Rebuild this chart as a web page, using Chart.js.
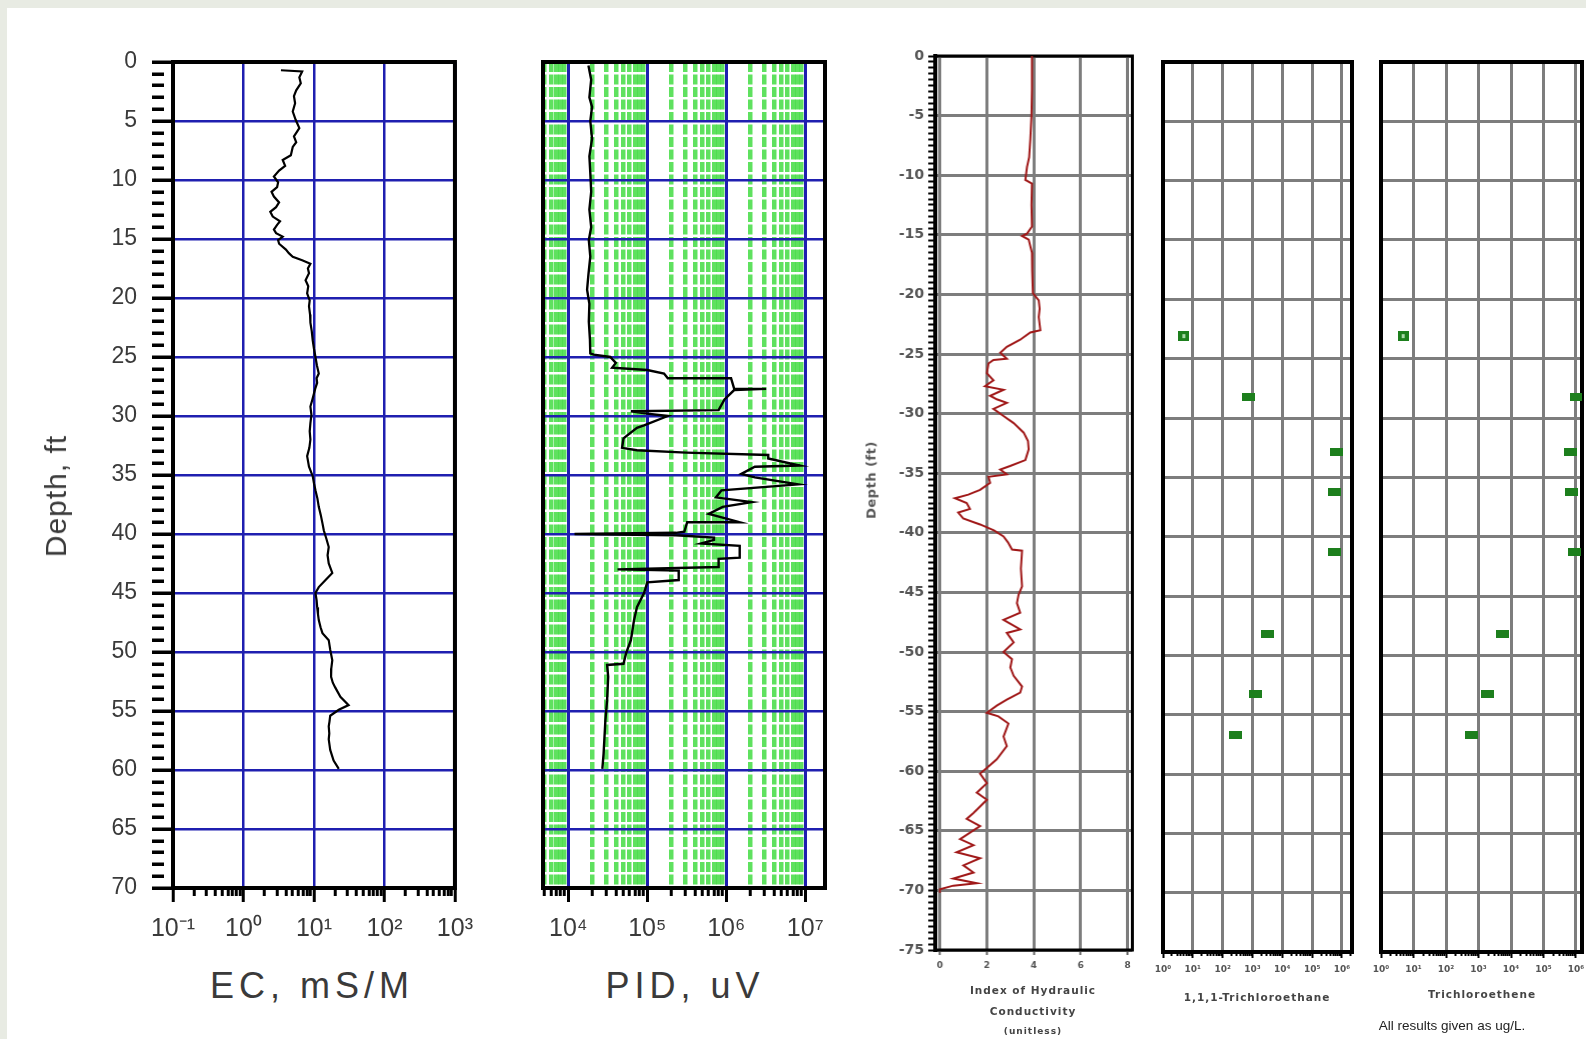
<!DOCTYPE html>
<html lang="en">
<head>
<meta charset="UTF-8">
<title>Depth profiles</title>
<script src="https://cdn.jsdelivr.net/npm/chart.js"></script>
<style>
  html, body { margin: 0; padding: 0; }
  body { width: 1586px; height: 1039px; background: #e8ebe3; overflow: hidden; position: relative; font-family: "Liberation Sans", Arial, sans-serif; }
  #sheet { position: absolute; left: 7px; top: 8px; right: 0; bottom: 0; background: #fff; }
  .panel { position: absolute; }
  .lbl { position: absolute; white-space: nowrap; color: #3a3a3a; transform: translate(-50%, -50%); }
  .small { font-family: "DejaVu Sans", sans-serif; font-weight: bold; font-size: 10.5px; letter-spacing: 1px; color: #444; }
</style>
</head>
<body>
<div id="sheet"></div>
<div class="panel" id="ecBox"><canvas id="ecChart"></canvas></div>
<div class="panel" id="pidBox"><canvas id="pidChart"></canvas></div>
<div class="panel" id="hcBox"><canvas id="hcChart"></canvas></div>
<div class="panel" id="tcaBox"><canvas id="tcaChart"></canvas></div>
<div class="panel" id="tceBox"><canvas id="tceChart"></canvas></div>

<div class="lbl" style="left:56px; top:496px; transform:translate(-50%,-50%) rotate(-90deg); font-size:30px; letter-spacing:1px;">Depth, ft</div>
<div class="lbl" style="left:312px; top:986px; font-size:36px; letter-spacing:5px;">EC, mS/M</div>
<div class="lbl" style="left:685px; top:986px; font-size:36px; letter-spacing:5px;">PID, uV</div>
<div class="lbl small" style="left:871px; top:480px; transform:translate(-50%,-50%) rotate(-90deg); font-size:13px; letter-spacing:0.5px; color:#555;">Depth (ft)</div>
<div class="lbl small" style="left:1033px; top:990px;">Index of Hydraulic</div>
<div class="lbl small" style="left:1033px; top:1011px;">Conductivity</div>
<div class="lbl small" style="left:1033px; top:1031px; font-size:9px;">(unitless)</div>
<div class="lbl small" style="left:1257px; top:997px;">1,1,1-Trichloroethane</div>
<div class="lbl small" style="left:1482px; top:994px;">Trichloroethene</div>
<div class="lbl" style="left:1452px; top:1025px; font-size:13.5px; color:#222;">All results given as ug/L.</div>

<script>
// ---- EC log (mS/M vs depth, ft) ----
const ecDepth = [0.7,0.8,1.3,1.8,2.4,2.9,3.5,4.2,4.9,5.6,6.3,6.8,7.2,7.9,8.3,8.8,9.2,9.7,10.2,10.6,11.0,11.4,11.9,12.3,12.7,13.1,13.5,13.8,14.2,14.5,14.8,15.1,15.4,15.9,16.2,16.5,16.8,17.1,17.5,17.9,18.5,19.0,19.6,20.2,20.7,21.4,22.1,22.8,23.6,24.3,25.0,25.7,26.4,26.8,27.2,27.7,28.1,28.6,29.2,29.9,30.6,31.3,32.0,32.7,33.4,34.3,35.1,35.7,36.3,37.0,37.7,38.4,39.1,39.7,40.4,41.1,41.8,42.5,43.3,43.9,44.5,45.0,45.6,46.2,46.8,47.3,47.9,48.4,49.0,49.8,50.7,51.4,52.1,52.6,53.0,53.8,54.5,54.9,55.4,55.9,56.3,56.9,57.4,58.3,59.2,59.9];
const ecValue = [3.4,6.8,6.2,6.5,5.6,5.2,5.4,5.0,5.5,6.2,5.2,5.6,5.0,4.7,3.6,3.9,3.2,2.7,3.1,3.0,2.5,2.7,3.2,2.9,2.4,2.6,3.3,3.0,2.7,2.9,3.6,3.1,3.2,4.0,4.4,5.0,6.8,8.9,8.2,8.5,7.6,8.3,8.0,8.7,8.5,8.8,8.9,9.3,9.6,10.0,10.5,11.0,11.7,10.9,11.1,10.4,10.0,9.5,8.9,9.2,8.9,8.7,8.9,8.6,8.0,8.5,9.6,10.0,10.5,11.2,11.7,12.5,13.2,13.8,15.0,16.2,15.6,16.2,18.2,14.6,11.7,10.5,10.9,11.1,11.4,11.7,12.4,13.2,16.2,17.0,18.2,17.6,17.5,18.5,20.0,23.7,31.0,22.5,17.0,16.6,16.2,16.5,16.2,17.0,19.0,22.5];

// ---- PID log (uV vs depth, ft) ----
const pidDepth = [0.3,1.5,3.0,3.8,5.0,6.5,8.0,9.4,11.0,12.5,14.0,15.1,16.5,18.0,19.3,20.5,22.0,23.5,24.7,24.8,25.0,25.5,25.9,26.1,26.4,26.8,26.8,27.7,27.7,27.8,28.6,29.5,29.6,29.8,30.0,30.8,31.0,31.9,32.7,32.9,33.1,33.3,33.6,34.2,34.3,34.9,35.2,35.8,36.3,36.9,37.3,37.7,38.3,39.0,39.0,39.8,39.9,40.0,40.1,40.3,40.5,40.8,41.0,42.0,42.1,42.8,43.0,43.1,43.9,44.1,45.0,46.2,47.3,49.0,50.1,51.0,51.1,52.1,54.1,55.8,58.6,59.9];
const pidValue = [18000,19500,18500,20000,19000,20000,18500,19000,19500,18500,19500,18200,19000,18000,17300,18500,18200,18800,19000,21000,34000,40000,36000,100000,163000,182000,1150000,1260000,3200000,1260000,950000,800000,62000,100000,182000,91000,74000,50000,48000,74000,310000,3400000,3400000,8500000,2300000,1550000,2300000,8100000,870000,740000,2100000,900000,600000,1480000,320000,295000,230000,12000,230000,700000,700000,480000,1480000,1480000,800000,800000,42000,250000,250000,100000,91000,74000,68000,62000,54000,50000,31000,32000,31000,29500,28000,27000];

// ---- Index of hydraulic conductivity (depth in ft, negative down) ----
const hcDepth = [0,-2.8,-5.0,-7.0,-8.5,-9.3,-10.4,-10.7,-12.5,-14.3,-14.9,-15.1,-15.4,-16.5,-18.0,-19.9,-20.5,-21.2,-21.9,-23.0,-23.2,-23.8,-24.4,-24.9,-25.4,-25.5,-25.8,-26.6,-27.2,-27.7,-28.0,-28.5,-28.8,-29.1,-29.6,-30.2,-30.8,-31.6,-32.3,-33.0,-33.9,-34.4,-34.7,-35.1,-35.3,-35.8,-36.4,-36.8,-37.1,-37.5,-38.0,-38.3,-38.8,-39.3,-39.8,-40.3,-40.8,-41.4,-41.5,-43.0,-44.5,-45.2,-45.9,-46.7,-47.3,-48.1,-48.4,-49.2,-50.0,-50.6,-51.3,-52.0,-52.9,-53.4,-54.0,-54.5,-55.1,-55.4,-56.0,-57.1,-57.9,-59.0,-59.6,-60.2,-61.0,-61.8,-62.4,-63.5,-64.0,-64.6,-65.7,-66.2,-66.8,-67.3,-67.9,-68.5,-69.0,-69.4,-69.6,-69.9,-70.2];
const hcValue = [3.92,3.92,3.90,3.85,3.80,3.71,3.64,3.92,3.90,3.92,3.71,3.50,3.78,3.92,3.93,3.96,4.21,4.25,4.21,4.28,3.85,3.42,2.85,2.57,2.85,2.28,2.07,2.00,2.28,1.92,2.71,2.14,2.42,2.85,2.28,2.71,3.14,3.57,3.75,3.78,3.64,2.99,2.57,2.85,2.07,2.14,1.71,1.21,0.64,1.14,1.28,0.78,0.99,1.71,2.30,2.71,2.90,3.07,3.50,3.45,3.50,3.35,3.28,3.42,2.71,3.42,2.85,3.14,2.71,3.07,3.00,3.14,3.50,3.42,2.85,2.42,2.00,2.49,2.92,2.71,2.85,2.42,2.07,1.71,2.00,1.57,2.00,1.43,1.14,1.71,0.86,1.43,0.71,1.71,1.00,1.43,0.57,1.57,0.57,0.00,0.00];

// ---- groundwater samples (ug/L) ----
const sampleDepth = [-23.1,-28.2,-32.9,-36.2,-41.3,-48.2,-53.3,-56.7];
const tcaConc = [5,710,630000,540000,540000,3300,1300,260];
const tceConc = [4.8,1070000,660000,750000,870000,5600,1950,630];
const sampleOpen = [true,false,false,false,false,false,false,false];

// ---- tick values / labels ----
const ecYTicks = [0,5,10,15,20,25,30,35,40,45,50,55,60,65,70];
const ecXTicks = [0.1,1,10,100,1000];
const ecXLabels = ['10\u207B\u00B9','10\u2070','10\u00B9','10\u00B2','10\u00B3'];
const pidXTicks = [1e4,1e5,1e6,1e7];
const pidXLabels = ['10\u2074','10\u2075','10\u2076','10\u2077'];
const hcYTicks = [0,-5,-10,-15,-20,-25,-30,-35,-40,-45,-50,-55,-60,-65,-70,-75];
const hcXTicks = [0,2,4,6,8];
const concXTicks = [1,10,100,1e3,1e4,1e5,1e6];
const concXLabels = ['10\u2070','10\u00B9','10\u00B2','10\u00B3','10\u2074','10\u2075','10\u2076'];

const blue = '#1f1fb0';
const green = 'rgba(55,218,55,0.8)';
const gray = '#7d7d7d';

function isDecade(v) {
  const l = Math.log10(v);
  return Math.abs(l - Math.round(l)) < 1e-6;
}
function withMinors(decades, min, max) {
  const out = [];
  const e0 = Math.floor(Math.log10(min)), e1 = Math.ceil(Math.log10(max));
  for (let e = e0; e <= e1; e++) {
    for (let k = 1; k <= 9; k++) {
      const v = k * Math.pow(10, e);
      if (v >= min * 0.9999 && v <= max * 1.0001) out.push(v);
    }
  }
  return out;
}
function decadeLabel(v, ticks, labels) {
  const i = ticks.findIndex(t => Math.abs(t - v) / t < 1e-6);
  return i >= 0 ? labels[i] : '';
}
function steps(from, to, step) {
  const out = [];
  for (let v = from; v <= to + 1e-9; v += step) out.push(Math.round(v * 100) / 100);
  return out;
}

// position a chart box so that its plot area lands on [left, top, right, bottom]
function place(id, area, wy, hx, padTop, padRight) {
  const el = document.getElementById(id);
  el.style.left = (area[0] - wy) + 'px';
  el.style.top = (area[1] - padTop) + 'px';
  el.style.width = (area[2] - area[0] + wy + padRight) + 'px';
  el.style.height = (area[3] - area[1] + padTop + hx) + 'px';
}

const frame = {
  id: 'frame',
  beforeDatasetsDraw(chart, args, opts) {
    const {ctx, chartArea: a} = chart;
    ctx.save();
    ctx.strokeStyle = '#000';
    ctx.lineWidth = opts.width || 4;
    ctx.strokeRect(a.left, a.top, a.right - a.left, a.bottom - a.top);
    ctx.restore();
  }
};

function baseOptions(padTop, padRight, frameWidth) {
  return {
    responsive: true,
    maintainAspectRatio: false,
    animation: false,
    layout: {padding: {top: padTop, right: padRight, left: 0, bottom: 0}},
    plugins: {legend: {display: false}, tooltip: {enabled: false}, frame: {width: frameWidth}},
    elements: {point: {radius: 0}, line: {tension: 0}}
  };
}

const PAD_TOP = 45;

// ---------- EC ----------
const ecArea = [173, 62, 455, 888];
place('ecBox', ecArea, 130, 70, PAD_TOP, 30);
const ecYAll = steps(0, 70, 1);
const ecXAll = withMinors(ecXTicks, 0.1, 1000);
new Chart(document.getElementById('ecChart'), {
  type: 'line',
  data: {datasets: [{
    label: 'EC',
    data: ecDepth.map((d, i) => ({x: ecValue[i], y: d})),
    borderColor: '#000', borderWidth: 2.2, pointRadius: 0, fill: false
  }]},
  options: Object.assign(baseOptions(PAD_TOP, 30, 4), {
    scales: {
      x: {
        type: 'logarithmic', position: 'bottom', min: 0.1, max: 1000,
        afterBuildTicks: s => { s.ticks = ecXAll.map(v => ({value: v})); },
        afterFit: s => { s.height = 70; },
        border: {display: false},
        grid: {
          z: -2,
          color: c => c.tick && isDecade(c.tick.value) ? blue : 'transparent',
          lineWidth: 2.5, tickLength: 14, tickWidth: 3, tickColor: '#000',
          tickBorderDash: c => c.tick && isDecade(c.tick.value) ? [] : [8, 40]
        },
        ticks: {autoSkip: false, maxRotation: 0, padding: 12, color: '#3a3a3a',
          font: {family: 'Liberation Sans', size: 25},
          callback: v => decadeLabel(v, ecXTicks, ecXLabels)}
      },
      y: {
        type: 'linear', position: 'left', reverse: true, min: 0, max: 70,
        afterBuildTicks: s => { s.ticks = ecYAll.map(v => ({value: v})); },
        afterFit: s => { s.width = 130; },
        border: {display: false},
        grid: {
          z: -1,
          color: c => c.tick && ecYTicks.includes(c.tick.value) ? blue : 'transparent',
          lineWidth: 2.5, tickLength: 21, tickWidth: 3.5, tickColor: '#000',
          tickBorderDash: c => c.tick && ecYTicks.includes(c.tick.value) ? [] : [12, 40]
        },
        ticks: {autoSkip: false, padding: 15, color: '#3a3a3a',
          font: {family: 'Liberation Sans', size: 23},
          callback: v => ecYTicks.includes(v) ? String(v) : ''}
      }
    }
  }),
  plugins: [frame]
});

// ---------- PID ----------
const pidArea = [543, 62, 825, 888];
const pidMin = Math.pow(10, 3.68), pidMax = Math.pow(10, 7.25);
place('pidBox', pidArea, 20, 70, PAD_TOP, 30);
const pidXAll = withMinors(pidXTicks, 5000, 1e7);
new Chart(document.getElementById('pidChart'), {
  type: 'line',
  data: {datasets: [{
    label: 'PID',
    data: pidDepth.map((d, i) => ({x: pidValue[i], y: d})),
    borderColor: '#000', borderWidth: 2.4, pointRadius: 0, fill: false
  }]},
  options: Object.assign(baseOptions(PAD_TOP, 30, 4), {
    scales: {
      x: {
        type: 'logarithmic', position: 'bottom', min: pidMin, max: pidMax,
        afterBuildTicks: s => { s.ticks = pidXAll.map(v => ({value: v})); },
        afterFit: s => { s.height = 70; },
        border: {display: false, dash: c => c.tick && !isDecade(c.tick.value) ? [10, 2.5] : []},
        grid: {
          z: -2,
          color: c => c.tick && isDecade(c.tick.value) ? blue : green,
          lineWidth: c => c.tick && isDecade(c.tick.value) ? 3 : 4.5,
          tickLength: 14, tickWidth: 3, tickColor: '#000',
          tickBorderDash: c => c.tick && isDecade(c.tick.value) ? [] : [8, 40]
        },
        ticks: {autoSkip: false, maxRotation: 0, padding: 12, color: '#3a3a3a',
          font: {family: 'Liberation Sans', size: 25},
          callback: v => decadeLabel(v, pidXTicks, pidXLabels)}
      },
      y: {
        type: 'linear', position: 'left', reverse: true, min: 0, max: 70,
        afterBuildTicks: s => { s.ticks = ecYTicks.map(v => ({value: v})); },
        afterFit: s => { s.width = 20; },
        border: {display: false},
        grid: {z: -1, color: blue, lineWidth: 2.5, drawTicks: false},
        ticks: {display: false}
      }
    }
  }),
  plugins: [frame]
});

// ---------- Hydraulic conductivity index ----------
const hcArea = [935.3, 56, 1131.7, 950];
place('hcBox', hcArea, 60, 50, PAD_TOP, 12);
const hcYAll = steps(-75, 0, 0.5);
new Chart(document.getElementById('hcChart'), {
  type: 'line',
  data: {datasets: [{
    label: 'Index of Hydraulic Conductivity',
    data: hcDepth.map((d, i) => ({x: hcValue[i], y: d})),
    borderColor: '#a01818', borderWidth: 2, pointRadius: 0, fill: false
  }]},
  options: Object.assign(baseOptions(PAD_TOP, 12, 3), {
    scales: {
      x: {
        type: 'linear', position: 'bottom', min: -0.2, max: 8.2,
        afterBuildTicks: s => { s.ticks = hcXTicks.map(v => ({value: v})); },
        afterFit: s => { s.height = 50; },
        border: {display: false},
        grid: {z: -2, color: gray, lineWidth: 3, tickLength: 5, tickWidth: 2, tickColor: '#666'},
        ticks: {autoSkip: false, maxRotation: 0, padding: 5, color: '#555',
          font: {family: 'DejaVu Sans', size: 9, weight: 'bold'}}
      },
      y: {
        type: 'linear', position: 'left', min: -75, max: 0,
        afterBuildTicks: s => { s.ticks = hcYAll.map(v => ({value: v})); },
        afterFit: s => { s.width = 60; },
        border: {display: true, color: '#000', width: 4},
        grid: {
          z: -1,
          color: c => c.tick && hcYTicks.includes(c.tick.value) ? gray : 'transparent',
          lineWidth: 3, tickLength: 7, tickWidth: 2, tickColor: '#000'
        },
        ticks: {autoSkip: false, padding: 4, color: '#555',
          font: {family: 'DejaVu Sans', size: 14, weight: 'bold'},
          callback: v => hcYTicks.includes(v) ? String(v) : ''}
      }
    }
  }),
  plugins: [frame]
});

// ---------- concentration panels ----------
function mark(open) {
  const c = document.createElement('canvas');
  c.width = open ? 11 : 13;
  c.height = open ? 10 : 8;
  const g = c.getContext('2d');
  g.fillStyle = '#1d7f1d';
  g.fillRect(0, 0, c.width, c.height);
  if (open) { g.fillStyle = '#a8d8a8'; g.fillRect(4, 3, 3, 4); }
  return c;
}
const openMark = mark(true), solidMark = mark(false);

function concChart(canvasId, boxId, area, maxExp, values, name) {
  const max = Math.pow(10, maxExp);
  place(boxId, area, 20, 50, PAD_TOP, 15);
  const xAll = withMinors(concXTicks, 1, max);
  return new Chart(document.getElementById(canvasId), {
    type: 'scatter',
    data: {datasets: [{
      label: name,
      data: sampleDepth.map((d, i) => ({x: values[i], y: d})),
      pointStyle: sampleOpen.map(o => o ? openMark : solidMark),
      pointRadius: 6
    }]},
    options: Object.assign(baseOptions(PAD_TOP, 15, 4), {
      scales: {
        x: {
          type: 'logarithmic', position: 'bottom', min: 1, max: max,
          afterBuildTicks: s => { s.ticks = xAll.map(v => ({value: v})); },
          afterFit: s => { s.height = 50; },
          border: {display: false},
          grid: {
            z: -2,
            color: c => c.tick && isDecade(c.tick.value) ? gray : 'transparent',
            lineWidth: 3, tickLength: 6, tickWidth: 2, tickColor: '#000',
            tickBorderDash: c => c.tick && isDecade(c.tick.value) ? [] : [4, 20]
          },
          ticks: {autoSkip: false, maxRotation: 0, padding: 6, color: '#555',
            font: {family: 'DejaVu Sans', size: 9, weight: 'bold'},
            callback: v => decadeLabel(v, concXTicks, concXLabels)}
        },
        y: {
          type: 'linear', position: 'left', min: -75, max: 0,
          afterBuildTicks: s => { s.ticks = hcYTicks.map(v => ({value: v})); },
          afterFit: s => { s.width = 20; },
          border: {display: false},
          grid: {z: -1, color: gray, lineWidth: 3, drawTicks: false},
          ticks: {display: false}
        }
      }
    }),
    plugins: [frame]
  });
}
concChart('tcaChart', 'tcaBox', [1163, 62, 1352, 952], 6 + 10 / 29.83, tcaConc, '1,1,1-Trichloroethane');
concChart('tceChart', 'tceBox', [1381, 62, 1582, 952], 6 + 6 / 32.5, tceConc, 'Trichloroethene');
</script>
</body>
</html>
